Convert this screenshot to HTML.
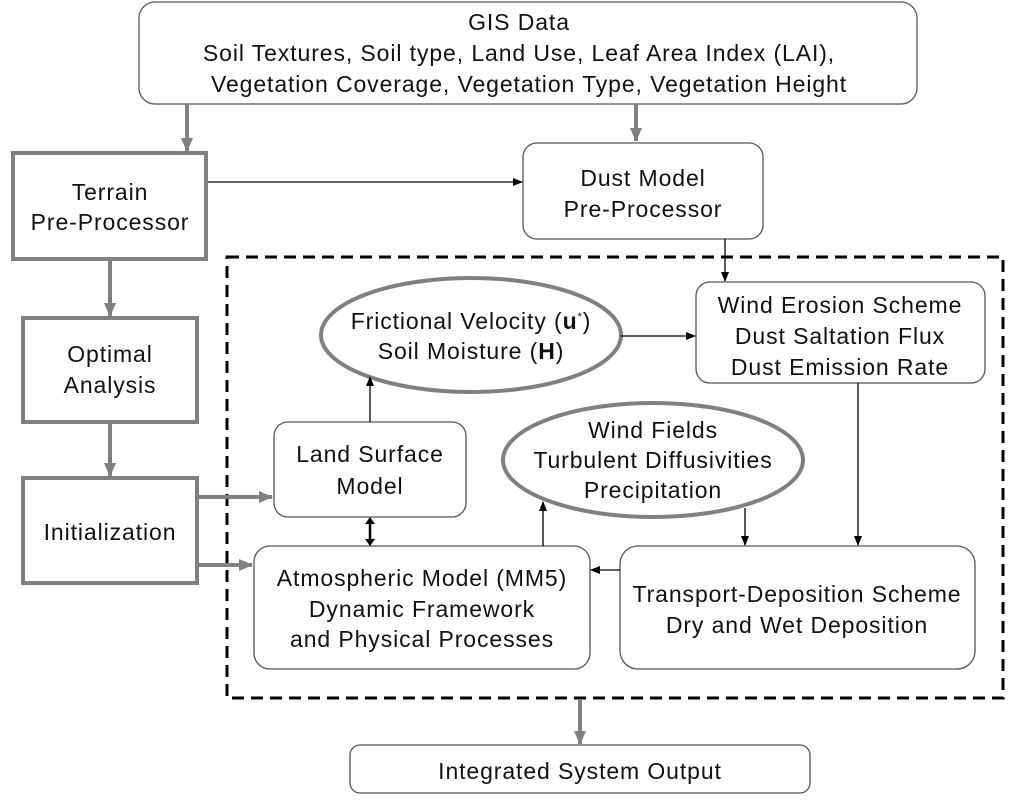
<!DOCTYPE html>
<html><head><style>body{margin:0;background:#fff}svg{display:block}text{font-family:"Liberation Sans",sans-serif;font-size:23px;letter-spacing:0.9px;fill:#111;text-anchor:middle}</style></head><body>
<svg width="1024" height="811" viewBox="0 0 1024 811">
<defs>
<marker id="k" markerWidth="10" markerHeight="10" refX="9" refY="5" orient="auto" markerUnits="userSpaceOnUse"><path d="M0,1 L10,5 L0,9 z" fill="#000"/></marker>
<marker id="g" markerWidth="14" markerHeight="14" refX="13" refY="7" orient="auto" markerUnits="userSpaceOnUse"><path d="M0,1 L14,7 L0,13 z" fill="#808080"/></marker>
</defs>
<g fill="none" stroke="#555" stroke-width="1.3">
<rect x="139" y="2" width="778" height="102" rx="16"/>
<rect x="523" y="143" width="240" height="96" rx="14"/>
<rect x="274" y="422" width="192" height="95" rx="14"/>
<rect x="254" y="546" width="336" height="123" rx="16"/>
<rect x="696" y="282" width="289" height="101" rx="14"/>
<rect x="620" y="546" width="355" height="123" rx="18"/>
<rect x="350" y="745" width="460" height="48" rx="10"/>
</g>
<g fill="none" stroke="#808080" stroke-width="4">
<rect x="13" y="153" width="193" height="106"/>
<rect x="23" y="318" width="174" height="104"/>
<rect x="23" y="478" width="174" height="105"/>
<ellipse cx="471" cy="335" rx="150" ry="57"/>
<ellipse cx="653" cy="460" rx="150" ry="57"/>
</g>
<rect x="227" y="257" width="776" height="441" fill="none" stroke="#000" stroke-width="3" stroke-dasharray="12,7"/>
<g stroke="#808080" stroke-width="4" marker-end="url(#g)">
<line x1="187" y1="104" x2="187" y2="151"/>
<line x1="636" y1="104" x2="636" y2="141"/>
<line x1="110" y1="261" x2="110" y2="316"/>
<line x1="110" y1="424" x2="110" y2="476"/>
<line x1="199" y1="497" x2="272" y2="497"/>
<line x1="199" y1="565" x2="252" y2="565"/>
<line x1="580" y1="699" x2="580" y2="744"/>
</g>
<g stroke="#000" stroke-width="1.3" marker-end="url(#k)">
<line x1="208" y1="182" x2="522" y2="182"/>
<line x1="725" y1="239" x2="725" y2="281"/>
<line x1="370" y1="422" x2="370" y2="377"/>
<line x1="621" y1="336" x2="695" y2="336"/>
<line x1="543" y1="546" x2="543" y2="502"/>
<line x1="745" y1="508" x2="745" y2="545"/>
<line x1="858" y1="383" x2="858" y2="545"/>
<line x1="620" y1="570" x2="591" y2="570"/>
</g>
<g stroke="#000" stroke-width="2.5">
<line x1="370" y1="522" x2="370" y2="540"/>
</g>
<path d="M365,524 L370,517 L375,524z M365,539 L370,546 L375,539z" fill="#000"/>
<text x="519" y="30">GIS Data</text>
<text x="519" y="61">Soil Textures, Soil type, Land Use, Leaf Area Index (LAI),</text>
<text x="529" y="92">Vegetation Coverage, Vegetation Type, Vegetation Height</text>
<text x="110" y="200">Terrain</text>
<text x="110" y="230">Pre-Processor</text>
<text x="643" y="186">Dust Model</text>
<text x="643" y="217">Pre-Processor</text>
<text x="110" y="362">Optimal</text>
<text x="110" y="393">Analysis</text>
<text x="110" y="540">Initialization</text>
<text x="370" y="462">Land Surface</text>
<text x="370" y="494">Model</text>
<text x="422" y="586">Atmospheric Model (MM5)</text>
<text x="422" y="617">Dynamic Framework</text>
<text x="422" y="647">and Physical Processes</text>
<text x="471" y="329">Frictional Velocity (<tspan font-weight="bold">u</tspan><tspan font-size="11" dy="-9">*</tspan><tspan dy="9">)</tspan></text>
<text x="471" y="359">Soil Moisture (<tspan font-weight="bold">H</tspan>)</text>
<text x="840" y="313">Wind Erosion Scheme</text>
<text x="840" y="344">Dust Saltation Flux</text>
<text x="840" y="375">Dust Emission Rate</text>
<text x="653" y="438">Wind Fields</text>
<text x="653" y="468">Turbulent Diffusivities</text>
<text x="653" y="498">Precipitation</text>
<text x="797" y="602">Transport-Deposition Scheme</text>
<text x="797" y="633">Dry and Wet Deposition</text>
<text x="580" y="779">Integrated System Output</text>
</svg>
</body></html>
